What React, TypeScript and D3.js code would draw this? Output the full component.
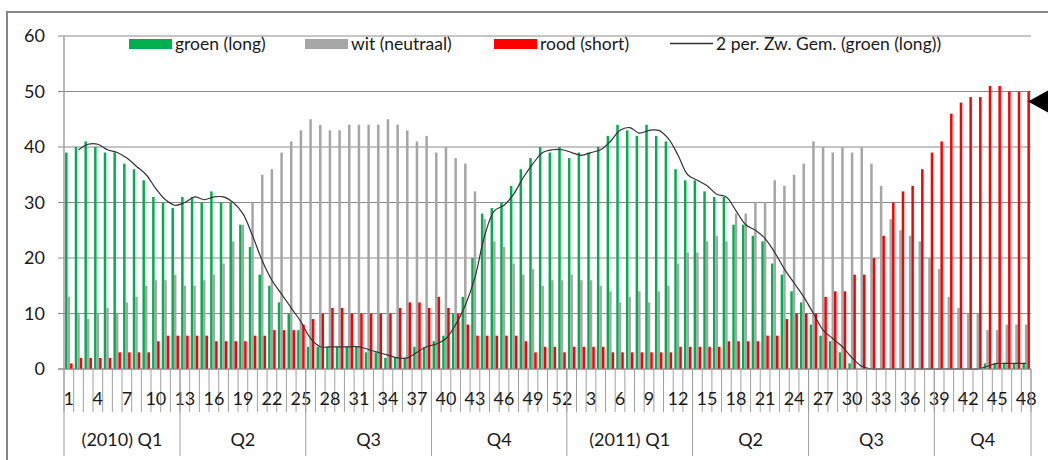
import React from 'react';
import * as d3 from 'd3';

// weeks: 2010 wk 1..52 then 2011 wk 1..48
const weeks2010 = d3.range(1, 53);
const weeks2011 = d3.range(1, 49);
const weekLabels = [...weeks2010, ...weeks2011];

const quarterLabels = ['(2010) Q1', 'Q2', 'Q3', 'Q4', '(2011) Q1', 'Q2', 'Q3', 'Q4'];
const quarterSizes = [12, 13, 13, 14, 13, 12, 13, 10];

const groen = [
  39, 40, 41, 40, 39, 39, 37, 36, 34, 31, 30, 29, 31, 31, 30, 32, 30, 30, 26, 22,
  17, 15, 12, 10, 7, 4, 4, 4, 4, 4, 4, 3, 3, 2, 2, 2, 4, 4, 5, 6,
  10, 13, 20, 28, 29, 30, 33, 36, 38, 40, 39, 40,
  38, 39, 39, 40, 42, 44, 43, 42, 44, 42, 41, 36, 34, 34, 32, 31, 31, 26, 26, 24,
  23, 19, 17, 14, 12, 8, 6, 5, 3, 1, 0, 0, 0, 0, 0, 0, 0, 0, 0, 0,
  0, 0, 0, 1, 1, 1, 1, 1,
];

const wit = [
  13, 10, 9, 10, 11, 10, 12, 13, 15, 16, 16, 17, 15, 15, 16, 17, 19, 23, 26, 30,
  35, 36, 39, 41, 43, 45, 44, 43, 43, 44, 44, 44, 44, 45, 44, 43, 41, 42, 39, 40,
  38, 37, 32, 27, 23, 22, 19, 17, 18, 15, 16, 16,
  17, 16, 16, 15, 14, 12, 13, 14, 12, 14, 15, 19, 21, 21, 23, 24, 23, 28, 28, 30,
  30, 34, 33, 35, 37, 41, 40, 39, 40, 39, 40, 37, 33, 27, 25, 24, 23, 20, 18, 13,
  11, 10, 10, 7, 7, 8, 8, 8,
];

const rood = [
  1, 2, 2, 2, 2, 3, 3, 3, 3, 5, 6, 6, 6, 6, 6, 5, 5, 5, 5, 6,
  6, 7, 7, 7, 8, 9, 10, 11, 11, 10, 10, 10, 10, 10, 11, 12, 12, 11, 13, 11,
  10, 8, 6, 6, 6, 6, 6, 5, 3, 4, 4, 3,
  4, 4, 4, 4, 3, 3, 3, 3, 3, 3, 3, 4, 4, 4, 4, 4, 5, 5, 5, 5,
  6, 6, 9, 10, 10, 10, 13, 14, 14, 17, 17, 20, 24, 30, 32, 33, 36, 39, 41, 46,
  48, 49, 49, 51, 51, 50, 50, 50,
];

const yTicks = [0, 10, 20, 30, 40, 50, 60];

const series = [
  { key: 'groen', values: groen, color: '#00b050', label: 'groen (long)' },
  { key: 'wit', values: wit, color: '#a6a6a6', label: 'wit (neutraal)' },
  { key: 'rood', values: rood, color: '#ff0000', label: 'rood (short)' },
];

const FONT = 'Lato, "Open Sans", sans-serif';

export default function App() {
  const width = 1048;
  const height = 460;
  const left = 64;
  const right = 1031;
  const top = 36;
  const bottom = 369;

  const idx = weekLabels.map((_, i) => i);
  const x = d3.scaleBand<number>().domain(idx).range([left, right]).paddingInner(0).paddingOuter(0);
  const inner = d3.scaleBand<string>().domain(series.map(s => s.key)).range([0, x.step()]).paddingInner(0).paddingOuter(0.43);
  const y = d3.scaleLinear().domain([0, 60]).range([bottom, top]);

  // 2 per. zwevend gemiddelde van groen
  const avg = groen.map((v, i) => (i === 0 ? null : (v + groen[i - 1]) / 2));
  const linePts = avg
    .map((v, i) => (v === null ? null : [x(i)! + x.bandwidth() / 2, y(v)] as [number, number]))
    .filter(Boolean) as [number, number][];
  const lineGen = d3.line().curve(d3.curveCatmullRom.alpha(0.5));

  // group boundaries
  const bounds: number[] = [0];
  quarterSizes.forEach(s => bounds.push(bounds[bounds.length - 1] + s));
  const posAt = (k: number) => left + k * x.step();

  return (
    <svg width={width} height={height} style={{ position: 'absolute', left: 0, top: 0, background: '#fff' }} fontFamily={FONT}>
      <rect x={7} y={12} width={1100} height={500} fill="#fff" stroke="#868686" strokeWidth={2} />

      {/* gridlines */}
      {yTicks.map(t => (
        <line key={t} x1={58} x2={right} y1={y(t)} y2={y(t)} stroke="#8c8c8c" strokeWidth={1.2} />
      ))}
      <line x1={left} x2={left} y1={top} y2={bottom} stroke="#8c8c8c" strokeWidth={1.2} />
      {yTicks.map(t => (
        <text key={'l' + t} x={45} y={y(t)} dy="0.36em" textAnchor="end" fontSize={18} fill="#1a1a1a">{t}</text>
      ))}

      {/* bars */}
      {series.map(s => (
        <g key={s.key} fill={s.color}>
          {s.values.map((v, i) => (
            <rect key={i} x={x(i)! + inner(s.key)!} y={y(v)} width={inner.bandwidth()} height={bottom - y(v)} />
          ))}
        </g>
      ))}

      <path d={lineGen(linePts) || ''} fill="none" stroke="#333" strokeWidth={1.2} />

      {/* category axis */}
      {d3.range(0, weekLabels.length + 1).map(k => (
        <line key={'t' + k} x1={posAt(k)} x2={posAt(k)} y1={bottom} y2={412} stroke="#a0a0a0" strokeWidth={1} />
      ))}
      {weekLabels.map((w, i) => (i % 3 === 0 ? (
        <text key={'w' + i} x={x(i)! + x.bandwidth() / 2} y={405} textAnchor="middle" fontSize={18} fill="#1a1a1a">{w}</text>
      ) : null))}
      {bounds.map((b, k) => (
        <line key={'b' + k} x1={posAt(b)} x2={posAt(b)} y1={bottom} y2={456} stroke="#a0a0a0" strokeWidth={1} />
      ))}
      {quarterLabels.map((q, k) => (
        <text key={'q' + k} x={(posAt(bounds[k]) + posAt(bounds[k + 1])) / 2} y={446} textAnchor="middle" fontSize={18} fill="#1a1a1a">{q}</text>
      ))}
      <line x1={58} x2={right} y1={bottom} y2={bottom} stroke="#8c8c8c" strokeWidth={1.2} />

      {/* legend */}
      <g fontSize={17.5} fill="#1a1a1a">
        <rect x={129} y={39} width={43} height={10} fill={series[0].color} />
        <text x={175} y={50}>{series[0].label}</text>
        <rect x={305} y={39} width={43} height={10} fill={series[1].color} />
        <text x={351} y={50}>{series[1].label}</text>
        <rect x={494} y={39} width={43} height={10} fill={series[2].color} />
        <text x={540} y={50}>{series[2].label}</text>
        <line x1={670} x2={713} y1={43.5} y2={43.5} stroke="#333" strokeWidth={1.5} />
        <text x={716} y={50}>2 per. Zw. Gem. (groen (long))</text>
      </g>

      {/* marker arrow */}
      <polygon points={`1028,${y(50) + 10} 1050,${y(50) - 2} 1050,${y(50) + 22}`} fill="#000" />
    </svg>
  );
}
